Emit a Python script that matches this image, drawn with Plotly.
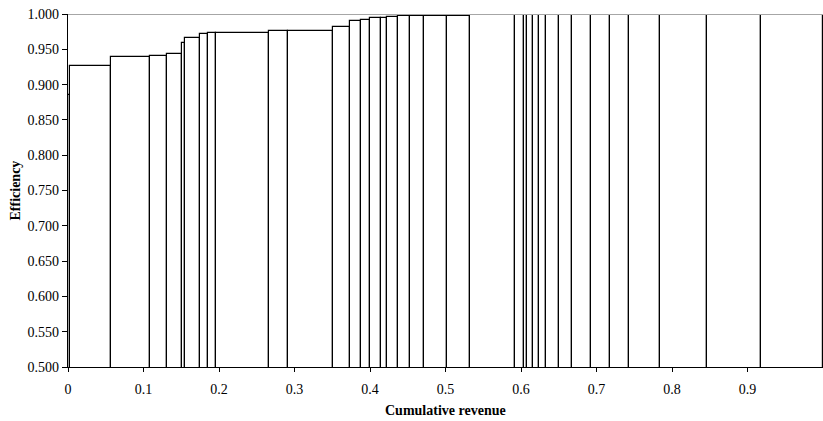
import plotly.graph_objects as go

# Right-hand edges of each unit along the cumulative revenue axis
revenue_edges = [0.003, 0.0574, 0.108, 0.1315, 0.1504, 0.1544, 0.1742, 0.1857,
                 0.1963, 0.2668, 0.292, 0.3505, 0.373, 0.388, 0.400, 0.4146,
                 0.4225, 0.4374, 0.453, 0.4718, 0.5026, 0.5327, 0.5922, 0.6045,
                 0.6085, 0.6164, 0.6236, 0.6332, 0.6508, 0.668, 0.6927, 0.7179,
                 0.743, 0.7844, 0.8466, 0.9176, 1.0]

# Efficiency score of each unit
efficiency = [0.885, 0.927, 0.939, 0.941, 0.9435, 0.9595, 0.9656, 0.9713,
              0.9736, 0.9738, 0.976, 0.9765, 0.982, 0.990, 0.9915, 0.9938,
              0.995, 0.9963, 0.9972, 0.9975, 0.9975, 0.9978, 0.998, 0.9995,
              1.0, 1.0, 1.0, 1.0, 1.0, 1.0, 1.0, 1.0,
              1.0, 1.0, 1.0, 1.0, 1.0]

x_ticks = [0, 0.1, 0.2, 0.3, 0.4, 0.5, 0.6, 0.7, 0.8, 0.9, 1]
x_tick_text = ["0", "0.1", "0.2", "0.3", "0.4", "0.5", "0.6", "0.7", "0.8", "0.9", "1"]

left_edges = [0.0] + revenue_edges[:-1]
widths = [r - l for l, r in zip(left_edges, revenue_edges)]
centers = [(l + r) / 2 for l, r in zip(left_edges, revenue_edges)]

FONT = "'Liberation Serif', 'Times New Roman', Times, serif"

fig = go.Figure()
fig.add_trace(go.Bar(
    x=centers, y=efficiency, width=widths,
    marker=dict(color="white", line=dict(color="black", width=1.2)),
    hoverinfo="x+y", showlegend=False,
))

# Upper border of the plot area
fig.add_shape(type="line", xref="paper", yref="y", x0=0, x1=1, y0=1.0, y1=1.0,
              line=dict(color="#a6a6a6", width=2), layer="above")

fig.update_layout(
    width=823, height=421,
    margin=dict(l=68, r=0, t=14, b=54),
    paper_bgcolor="white", plot_bgcolor="white",
    bargap=0,
    font=dict(family=FONT, size=14, color="black"),
    xaxis=dict(range=[0, 1], tickvals=x_ticks, ticktext=x_tick_text,
               ticks="outside", ticklen=4, tickcolor="black",
               ticklabelstandoff=5,
               showline=True, linecolor="black", linewidth=1.2,
               showgrid=False, zeroline=False,
               tickfont=dict(family=FONT, size=14)),
    yaxis=dict(range=[0.5, 1.0], dtick=0.05, tick0=0.5, tickformat=".3f",
               ticks="outside", ticklen=5, tickcolor="black",
               showline=True, linecolor="black", linewidth=1.2,
               showgrid=False, zeroline=False,
               tickfont=dict(family=FONT, size=14)),
    annotations=[
        dict(text="<b>Cumulative revenue</b>", xref="paper", yref="paper",
             x=0.5, y=0, yshift=-43, showarrow=False, xanchor="center",
             yanchor="middle", font=dict(family=FONT, size=14)),
        dict(text="<b>Efficiency</b>", xref="paper", yref="paper",
             x=0, xshift=-53, y=0.5, showarrow=False, textangle=-90,
             xanchor="center", yanchor="middle", font=dict(family=FONT, size=14)),
    ],
)

fig.write_html("out.html")
